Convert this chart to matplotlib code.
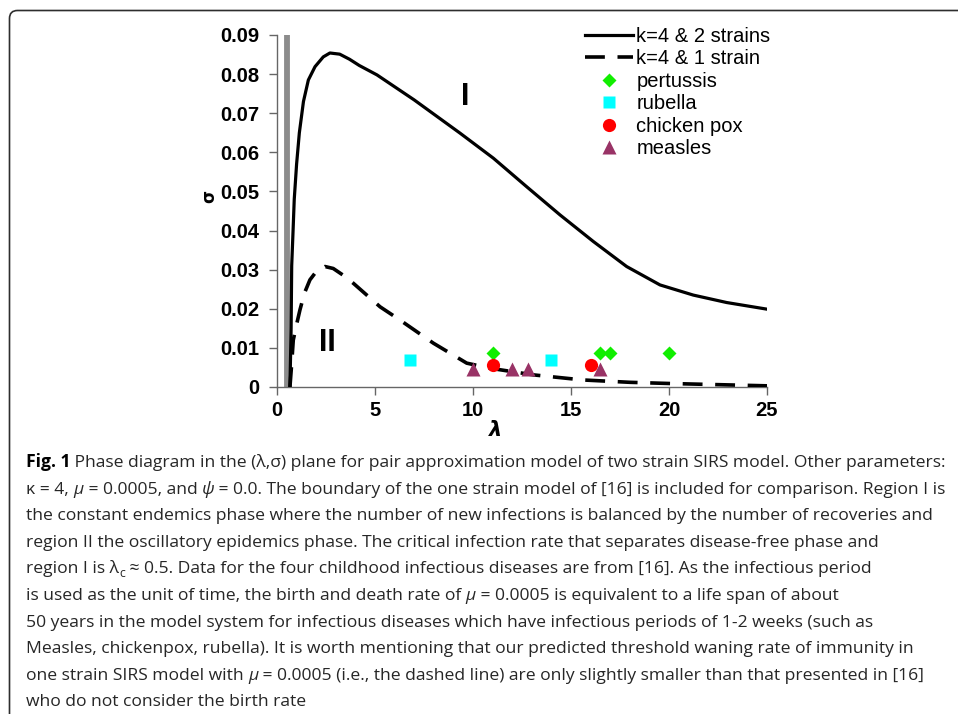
import matplotlib
matplotlib.use("Agg")
import matplotlib.pyplot as plt
from matplotlib.patches import FancyBboxPatch
from matplotlib.transforms import IdentityTransform

# --- data ---
two_strain_x = [0.66, 0.72, 0.75, 0.82, 0.88, 1.00, 1.14, 1.35, 1.60, 1.94, 2.36, 2.70,
                3.20, 3.70, 4.20, 5.10, 7.00, 9.34, 11.04, 12.74, 14.44, 16.14, 17.84, 19.54,
                21.24, 22.94, 25.0]
two_strain_y = [0.000, 0.015, 0.031, 0.040, 0.048, 0.057, 0.065, 0.073, 0.0785, 0.0819, 0.0844, 0.0854,
                0.0851, 0.0838, 0.0822, 0.0798, 0.0734, 0.0649, 0.0585, 0.0512, 0.0440, 0.0372, 0.0308,
                0.0261, 0.0235, 0.0216, 0.0199]

one_strain_x = [0.66, 0.75, 0.83, 1.00, 1.17, 1.40, 1.68, 2.00, 2.45, 2.87, 3.40, 3.90,
                5.26, 6.28, 7.98, 9.68, 10.87, 13.08, 15.6, 18.0, 20.0, 22.5, 25.0]
one_strain_y = [0.000, 0.006, 0.012, 0.016, 0.0197, 0.024, 0.0274, 0.0295, 0.0308, 0.0303, 0.0285, 0.0265,
                0.0205, 0.0171, 0.0112, 0.0061, 0.0048, 0.0031, 0.0018, 0.0012, 0.0009, 0.0006, 0.0003]

lambda_c = 0.5

pertussis_x = [11.0, 16.5, 17.0, 20.0]
pertussis_y = [0.0086, 0.0086, 0.0086, 0.0086]
rubella_x = [6.8, 14.0]
rubella_y = [0.0069, 0.0069]
chickenpox_x = [11.0, 16.0]
chickenpox_y = [0.0056, 0.0056]
measles_x = [10.0, 12.0, 12.8, 16.5]
measles_y = [0.0045, 0.0045, 0.0045, 0.0045]

x_ticks = [0, 5, 10, 15, 20, 25]
y_ticks = [0, 0.01, 0.02, 0.03, 0.04, 0.05, 0.06, 0.07, 0.08, 0.09]
y_ticklabels = ["0", "0.01", "0.02", "0.03", "0.04", "0.05", "0.06", "0.07", "0.08", "0.09"]

caption_lines = [
    [("Fig. 1", "bold"), (" Phase diagram in the (λ,σ) plane for pair approximation model of two strain SIRS model. Other parameters:", "normal")],
    [("κ = 4, ", "normal"), ("μ", "italic"), (" = 0.0005, and ", "normal"), ("ψ", "italic"),
     (" = 0.0. The boundary of the one strain model of [16] is included for comparison. Region I is", "normal")],
    [("the constant endemics phase where the number of new infections is balanced by the number of recoveries and", "normal")],
    [("region II the oscillatory epidemics phase. The critical infection rate that separates disease-free phase and", "normal")],
    [("region I is λ", "normal"), ("c", "sub"),
     (" ≈ 0.5. Data for the four childhood infectious diseases are from [16]. As the infectious period", "normal")],
    [("is used as the unit of time, the birth and death rate of ", "normal"), ("μ", "italic"),
     (" = 0.0005 is equivalent to a life span of about", "normal")],
    [("50 years in the model system for infectious diseases which have infectious periods of 1-2 weeks (such as", "normal")],
    [("Measles, chickenpox, rubella). It is worth mentioning that our predicted threshold waning rate of immunity in", "normal")],
    [("one strain SIRS model with ", "normal"), ("μ", "italic"),
     (" = 0.0005 (i.e., the dashed line) are only slightly smaller than that presented in [16]", "normal")],
    [("who do not consider the birth rate", "normal")],
]

W, H = 958, 714
fig = plt.figure(figsize=(W / 100, H / 100), dpi=100)
plt.rcParams['font.family'] = ['Liberation Sans', 'DejaVu Sans']

ax = fig.add_axes([277 / W, 1 - 387 / H, 490 / W, 352 / H])

ax.plot([lambda_c, lambda_c], [0, 0.09], color='#8c8c8c', lw=4.2, solid_capstyle='butt', zorder=1)
ax.plot(two_strain_x, two_strain_y, color='black', lw=2.3, label='k=4 & 2 strains', zorder=3)
ax.plot(one_strain_x, one_strain_y, color='black', lw=2.6, linestyle=(0, (5.5, 3.5)),
        label='k=4 & 1 strain', zorder=3)
ax.plot(pertussis_x, pertussis_y, 'D', color='#11ee00', ms=7.5, mec='none', label='pertussis', zorder=4)
ax.plot(rubella_x, rubella_y, 's', color='#00ffff', ms=9, mec='none', label='rubella', zorder=4)
ax.plot(chickenpox_x, chickenpox_y, 'o', color='#ff0000', ms=9.5, mec='none', label='chicken pox', zorder=4)
ax.plot(measles_x, measles_y, '^', color='#993366', ms=10, mec='none', label='measles', zorder=4)

ax.text(9.6, 0.0742, "I", fontsize=22, fontweight='bold', ha='center', va='center')
ax.text(2.55, 0.0112, "II", fontsize=22, fontweight='bold', ha='center', va='center')

ax.set_xlim(0, 25)
ax.set_ylim(0, 0.09)
ax.set_xticks(x_ticks)
ax.set_xticklabels([str(t) for t in x_ticks])
ax.set_yticks(y_ticks)
ax.set_yticklabels(y_ticklabels)
for lab in ax.get_xticklabels() + ax.get_yticklabels():
    lab.set_fontweight('bold')
    lab.set_fontsize(14.5)
ax.tick_params(axis='y', direction='out', length=6, width=1, color='#666666', pad=7)
ax.tick_params(axis='x', direction='out', length=6, width=1, color='#666666', pad=4)
for side in ['top', 'right']:
    ax.spines[side].set_visible(False)
for side in ['left', 'bottom']:
    ax.spines[side].set_color('#666666')
    ax.spines[side].set_linewidth(1)
ax.patch.set_alpha(0)

ax.set_xlabel("λ", fontsize=15, fontweight='bold', fontstyle='italic', family=['DejaVu Sans'])
ax.xaxis.set_label_coords(0.445, -0.095)
ax.set_ylabel("σ", fontsize=12, fontweight='bold', family=['DejaVu Sans'])
ax.yaxis.set_label_coords(-0.119, 0.54)

ax.legend(loc='upper left', bbox_to_anchor=(585 / W, 1 - 27 / H), bbox_transform=fig.transFigure,
          frameon=False, fontsize=14.5, handlelength=2.4, handletextpad=0.15, labelspacing=0.17,
          borderpad=0, borderaxespad=0, numpoints=1)

# rounded frame around the figure panel
frame = FancyBboxPatch((9.5, -30), 1000, H - 10 + 30 - 0.5,
                       boxstyle="round,pad=0,rounding_size=8",
                       transform=IdentityTransform(), fill=False, ec='#2e2e2e', lw=1.2)
fig.patches.append(frame)

# caption, drawn segment by segment
renderer = fig.canvas.get_renderer()
cap_size = 12.6
x0 = 26
base0 = 467
step = 26.6
for i, segs in enumerate(caption_lines):
    x = x0
    y = H - (base0 + i * step)
    for txt, style in segs:
        kw = dict(fontsize=cap_size, color='#262626', va='baseline', ha='left',
                  family=['Open Sans', 'DejaVu Sans'], transform=IdentityTransform())
        yy = y
        if style == 'bold':
            kw['fontweight'] = 'bold'
            kw['color'] = 'black'
        elif style == 'italic':
            kw['fontstyle'] = 'italic'
        elif style == 'sub':
            kw['fontsize'] = cap_size * 0.7
            yy = y - 4
        t = fig.text(x, yy, txt, **kw)
        bb = t.get_window_extent(renderer)
        x += bb.width

fig.savefig("out.png", dpi=100)
